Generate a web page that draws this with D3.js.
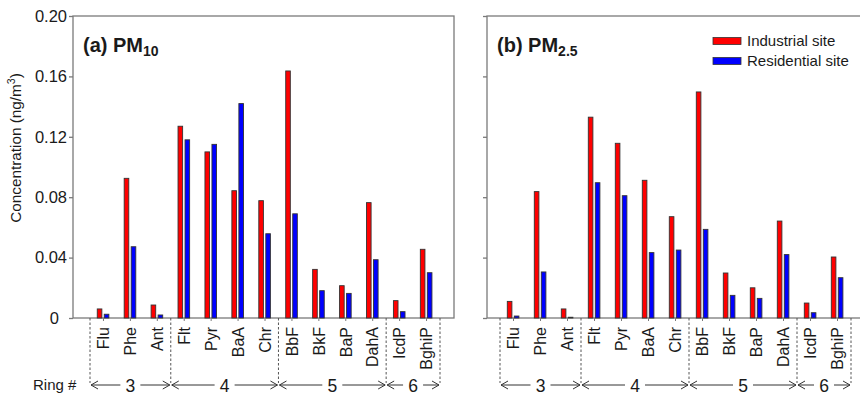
<!DOCTYPE html>
<html>
<head>
<meta charset="utf-8">
<script src="https://cdn.jsdelivr.net/npm/d3@7"></script>
<style>
  body { margin: 0; background: #fff; }
  text { font-family: "Liberation Sans", Arial, sans-serif; fill: #1a1a1a; }
</style>
</head>
<body>
<div id="chart"></div>
<script>
// Data
const compounds = ["Flu", "Phe", "Ant", "Flt", "Pyr", "BaA", "Chr", "BbF", "BkF", "BaP", "DahA", "IcdP", "BghiP"];
const pm10Industrial = [0.006, 0.0925, 0.0086, 0.127, 0.110, 0.0843, 0.0777, 0.1636, 0.0322, 0.0214, 0.0764, 0.0115, 0.0455];
const pm10Residential = [0.0025, 0.0472, 0.002, 0.118, 0.115, 0.142, 0.0558, 0.069, 0.0181, 0.0163, 0.0386, 0.0042, 0.030];
const pm25Industrial = [0.011, 0.0837, 0.006, 0.133, 0.1157, 0.0912, 0.0671, 0.1497, 0.0298, 0.020, 0.0642, 0.0099, 0.0404];
const pm25Residential = [0.0013, 0.0305, 0.0005, 0.0896, 0.081, 0.0433, 0.045, 0.0587, 0.015, 0.013, 0.042, 0.0035, 0.0267];
const yTicks = [0, 0.04, 0.08, 0.12, 0.16, 0.20];
// ring groups: ring number, first compound, last compound
const rings = [
  { ring: "3", from: 0, to: 2 },
  { ring: "4", from: 3, to: 6 },
  { ring: "5", from: 7, to: 10 },
  { ring: "6", from: 11, to: 12 }
];
const seriesNames = ["Industrial site", "Residential site"];
const seriesColors = ["#ff0000", "#0000ff"];

const W = 860, H = 396;
const svg = d3.select("#chart").append("svg")
  .attr("width", W).attr("height", H);

const y = d3.scaleLinear().domain([0, 0.20]).range([318, 16]);
const axisColor = "#7a7a7a";

const panels = [
  { left: 73, right: 454, catStart: 90, catEnd: 440, title: "(a) PM", sub: "10",
    ind: pm10Industrial, res: pm10Residential, labels: true, legend: false },
  { left: 487, right: 866, catStart: 500, catEnd: 851, title: "(b) PM", sub: "2.5",
    ind: pm25Industrial, res: pm25Residential, labels: false, legend: true }
];

panels.forEach(p => {
  const g = svg.append("g");
  const x = d3.scaleBand().domain(compounds).range([p.catStart, p.catEnd]);
  const cx = d => x(d) + x.bandwidth() / 2;

  // plot box
  g.append("rect")
    .attr("x", p.left).attr("y", y(0.20))
    .attr("width", p.right - p.left).attr("height", y(0) - y(0.20))
    .attr("fill", "none").attr("stroke", axisColor).attr("stroke-width", 1.3);

  // y axis ticks
  const yAxis = d3.axisLeft(y).tickValues(yTicks).tickSize(4)
    .tickFormat(d => p.labels ? (d === 0 ? "0" : d3.format(".2f")(d)) : "");
  const ya = g.append("g").attr("transform", `translate(${p.left},0)`).call(yAxis);
  ya.select(".domain").remove();
  ya.selectAll("line").attr("stroke", axisColor).attr("stroke-width", 1.3);
  ya.selectAll("text").attr("font-size", 16.5)
    .attr("x", d => d === 0 ? -14 : -6).style("fill", "#1a1a1a");

  // bars
  const bw = 4.6;
  compounds.forEach((c, i) => {
    g.append("rect")
      .attr("x", cx(c) - 6.2).attr("y", y(p.ind[i]))
      .attr("width", bw).attr("height", y(0) - y(p.ind[i]))
      .attr("fill", seriesColors[0]).attr("stroke", "#333").attr("stroke-width", 0.9);
    g.append("rect")
      .attr("x", cx(c) + 0.8).attr("y", y(p.res[i]))
      .attr("width", bw).attr("height", y(0) - y(p.res[i]))
      .attr("fill", seriesColors[1]).attr("stroke", "#333").attr("stroke-width", 0.9);
  });

  // category ticks and labels
  compounds.forEach(c => {
    g.append("line")
      .attr("x1", cx(c)).attr("x2", cx(c))
      .attr("y1", y(0)).attr("y2", y(0) + 3)
      .attr("stroke", axisColor).attr("stroke-width", 1);
    g.append("text")
      .attr("transform", `translate(${cx(c)},${y(0) + 9}) rotate(-90)`)
      .attr("text-anchor", "end").attr("dy", "0.36em")
      .attr("font-size", 16)
      .text(c);
  });

  // ring separators and arrows
  const arrowY = 385;
  const bounds = [p.catStart];
  rings.forEach(r => bounds.push(x(compounds[r.to]) + x.bandwidth()));
  bounds.forEach(b => {
    g.append("line")
      .attr("x1", b).attr("x2", b)
      .attr("y1", y(0)).attr("y2", arrowY - 2)
      .attr("stroke", "#555").attr("stroke-width", 1)
      .attr("stroke-dasharray", "2.5,2");
  });
  rings.forEach(r => {
    const a = x(compounds[r.from]);
    const b = x(compounds[r.to]) + x.bandwidth();
    const mid = (a + b) / 2;
    g.append("text")
      .attr("x", mid).attr("y", arrowY + 6.5)
      .attr("text-anchor", "middle").attr("font-size", 17.5)
      .text(r.ring);
    const gap = 10;
    const ah = [[a + 1, mid - gap], [mid + gap, b - 1]];
    // left arrow
    g.append("path")
      .attr("d", `M${ah[0][1]},${arrowY}H${ah[0][0]}M${ah[0][0] + 7},${arrowY - 4}L${ah[0][0]},${arrowY}L${ah[0][0] + 7},${arrowY + 4}`)
      .attr("fill", "none").attr("stroke", "#333").attr("stroke-width", 1);
    // right arrow
    g.append("path")
      .attr("d", `M${ah[1][0]},${arrowY}H${ah[1][1]}M${ah[1][1] - 7},${arrowY - 4}L${ah[1][1]},${arrowY}L${ah[1][1] - 7},${arrowY + 4}`)
      .attr("fill", "none").attr("stroke", "#333").attr("stroke-width", 1);
  });

  // panel title
  const t = g.append("text")
    .attr("x", p.left + 10).attr("y", 52)
    .attr("font-size", 20).attr("font-weight", "bold");
  t.append("tspan").text(p.title);
  t.append("tspan").attr("font-size", 14).attr("dy", 4).text(p.sub);

  // legend
  if (p.legend) {
    seriesNames.forEach((s, i) => {
      g.append("rect")
        .attr("x", 713).attr("y", 37.5 + i * 20)
        .attr("width", 28).attr("height", 7)
        .attr("fill", seriesColors[i]).attr("stroke", "#333").attr("stroke-width", 0.8);
      g.append("text")
        .attr("x", 747).attr("y", 46 + i * 20)
        .attr("font-size", 15)
        .text(s);
    });
  }
});

// y axis title
svg.append("text")
  .attr("transform", "translate(21,148) rotate(-90)")
  .attr("text-anchor", "middle").attr("font-size", 15.3)
  .text("Concentration (ng/m")
  .append("tspan").attr("font-size", 10.5).attr("dy", -6).text("3")
  .select(function() { return this.parentNode; })
  .append("tspan").attr("font-size", 15.3).attr("dy", 6).text(")");

// Ring # label
svg.append("text")
  .attr("x", 33).attr("y", 390)
  .attr("font-size", 15)
  .text("Ring #");
</script>
</body>
</html>
